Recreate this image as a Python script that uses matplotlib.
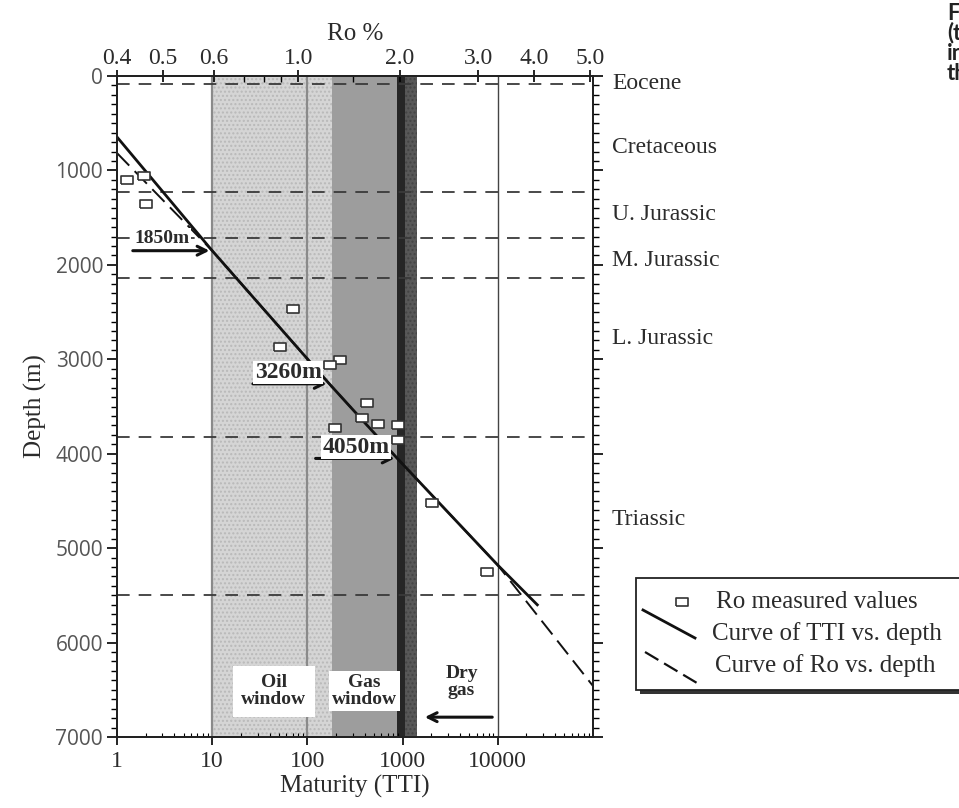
import matplotlib

matplotlib.use("Agg")

import matplotlib.pyplot as plt
from matplotlib.lines import Line2D
from matplotlib.patches import Rectangle
from matplotlib.ticker import FixedLocator, MultipleLocator, NullFormatter

SERIF = "Liberation Serif"
SANS = "Open Sans"
INK = "#2b2b2b"

# modelled curves (depth in m, TTI)
tti_curve_depth = [646, 1850, 3260, 4050, 5180, 5600]
tti_curve_value = [1, 10, 170, 880, 10000, 26000]
ro_curve_depth = [816, 1850, 3260, 4050, 5180, 6460]
ro_curve_value = [1, 10, 170, 880, 10000, 100000]

# measured Ro samples, converted to TTI
ro_meas_tti = [1.27, 1.9, 2.0, 70, 51, 219, 172, 423, 374, 550, 195, 890, 890, 2040, 7700]
ro_meas_depth = [1100, 1060, 1356, 2470, 2870, 3008, 3061, 3464, 3623, 3686, 3729, 3697, 3850, 4523, 5254]

# top axis: Ro % and the TTI it sits over
ro_ticks = ["0.4", "0.5", "0.6", "1.0", "2.0", "3.0", "4.0", "5.0"]
ro_tick_tti = [1.0, 3.05, 10.4, 80, 940, 6200, 24000, 93000]
ro_minor_tti = [21.6, 35, 53, 301]

# maturity windows (TTI)
oil_window = (10, 180)
gas_window = (180, 880)
peak_band = (880, 1050)
late_band = (1050, 1400)

# stratigraphy
formation_tops = [80, 1230, 1715, 2140, 3820, 5500]
formation_names = ["Eocene", "Cretaceous", "U. Jurassic", "M. Jurassic", "L. Jurassic", "Triassic"]
formation_label_depth = [80, 760, 1470, 1950, 2780, 4700]

# depth markers on the TTI curve
marker_depths = [1850, 3260, 4050]
marker_tti = [10, 170, 880]

W, H = 959, 808


def fx(px):
    return px / W


def fy(py):
    return 1 - py / H


fig = plt.figure(figsize=(W / 100, H / 100), dpi=100)
ax = fig.add_axes([fx(117), fy(737), fx(593) - fx(117), fy(76) - fy(737)])
ax.set_xscale("log")
ax.set_xlim(1, 1e5)
ax.set_ylim(7000, 0)

# windows
ax.axvspan(*oil_window, facecolor="#d5d5d5", edgecolor="#b9b9b9", hatch="....", linewidth=0, zorder=0)
ax.axvspan(*gas_window, facecolor="#9d9d9d", linewidth=0, zorder=0)
ax.axvspan(*peak_band, facecolor="#262626", linewidth=0, zorder=0)
ax.axvspan(*late_band, facecolor="#585858", edgecolor="#444444", hatch="....", linewidth=0, zorder=0)
ax.axvline(10, color="#8a8a8a", lw=1.6, zorder=1)
ax.axvline(100, color="#8a8a8a", lw=1.6, zorder=1)
ax.axvline(10000, color="#444444", lw=1.0, zorder=1)

for top in formation_tops:
    ax.axhline(top, color="#3a3a3a", lw=1.3, dashes=(7, 5), zorder=2)

ax.plot(tti_curve_value, tti_curve_depth, color="#111111", lw=2.0, zorder=4)
ax.plot(ro_curve_value, ro_curve_depth, color="#111111", lw=1.4, dashes=(9, 4), zorder=4)

box_marker = [(-1.4, -1), (1.4, -1), (1.4, 1), (-1.4, 1), (-1.4, -1)]
ax.plot(ro_meas_tti, ro_meas_depth, linestyle="none", marker=box_marker, markersize=9,
        markerfacecolor="white", markeredgecolor="#333333", markeredgewidth=1.2, zorder=5)

# depth markers
arrow_kw = dict(arrowstyle="->", lw=2.2, color="#111111", mutation_scale=16)
ax.annotate("", xy=(marker_tti[0], marker_depths[0]), xytext=(1.37, marker_depths[0]),
            arrowprops=arrow_kw, zorder=6)
ax.text(3.0, 1716, f"{marker_depths[0]}m", family=SERIF, fontsize=14, fontweight="bold",
        color=INK, ha="center", va="center", zorder=6,
        bbox=dict(facecolor="white", edgecolor="none", pad=1))
ax.annotate("", xy=(marker_tti[1], marker_depths[1]), xytext=(25, marker_depths[1]),
            arrowprops=arrow_kw, zorder=6)
ax.text(63, 3140, f"{marker_depths[1]}m", family=SERIF, fontsize=17, fontweight="bold",
        color=INK, ha="center", va="center", zorder=6,
        bbox=dict(facecolor="white", edgecolor="none", pad=1))
ax.annotate("", xy=(marker_tti[2], marker_depths[2]), xytext=(114, marker_depths[2]),
            arrowprops=arrow_kw, zorder=6)
ax.text(324, 3930, f"{marker_depths[2]}m", family=SERIF, fontsize=17, fontweight="bold",
        color=INK, ha="center", va="center", zorder=6,
        bbox=dict(facecolor="white", edgecolor="none", pad=1))

# window labels
ax.text(44.5, 6515, "Oil\nwindow", family=SERIF, fontsize=14, fontweight="bold", color=INK,
        ha="center", va="center", linespacing=1.0, zorder=6,
        bbox=dict(facecolor="white", edgecolor="none", pad=6))
ax.text(400, 6515, "Gas\nwindow", family=SERIF, fontsize=14, fontweight="bold", color=INK,
        ha="center", va="center", linespacing=1.0, zorder=6,
        bbox=dict(facecolor="white", edgecolor="none", pad=2))
ax.text(4160, 6420, "Dry\ngas", family=SERIF, fontsize=14, fontweight="bold", color=INK,
        ha="center", va="center", linespacing=1.0, zorder=6)
ax.annotate("", xy=(1600, 6790), xytext=(9350, 6790), arrowprops=arrow_kw, zorder=6)

# left / bottom axes
ax.yaxis.set_major_locator(MultipleLocator(1000))
ax.yaxis.set_minor_locator(MultipleLocator(100))
ax.set_xticks([1, 10, 100, 1000, 10000])
ax.set_xticklabels(["1", "10", "100", "1000", "10000"])
ax.tick_params(axis="y", which="major", direction="out", length=7, width=1.2, labelsize=15,
               labelcolor="#555555", pad=3)
ax.tick_params(axis="y", which="minor", direction="out", length=4, width=1)
ax.tick_params(axis="x", which="major", direction="out", length=6, width=1.2, labelsize=17,
               labelcolor=INK, pad=4)
ax.tick_params(axis="x", which="minor", direction="in", length=3, width=0.8)
ax.xaxis.set_minor_formatter(NullFormatter())
for lbl in ax.get_yticklabels():
    lbl.set_family(SANS)
for lbl in ax.get_xticklabels():
    lbl.set_family(SERIF)
ax.set_xlabel("Maturity (TTI)", family=SERIF, fontsize=18, color=INK, labelpad=2)
ax.set_ylabel("Depth (m)", family=SERIF, fontsize=18, color=INK, labelpad=6)

# top axis: Ro %
ax_top = ax.twiny()
ax_top.set_xscale("log")
ax_top.set_xlim(ax.get_xlim())
ax_top.xaxis.set_major_locator(FixedLocator(ro_tick_tti))
ax_top.xaxis.set_minor_locator(FixedLocator(ro_minor_tti))
ax_top.xaxis.set_minor_formatter(NullFormatter())
ax_top.set_xticklabels(ro_ticks, family=SERIF)
ax_top.tick_params(axis="x", which="major", direction="inout", length=8, width=1.2,
                   labelsize=17, labelcolor=INK, pad=1)
ax_top.tick_params(axis="x", which="minor", direction="in", length=4, width=1)
ax_top.set_xlabel("Ro %", family=SERIF, fontsize=18, color=INK, labelpad=6)

# right axis: stratigraphy
ax_right = ax.twinx()
ax_right.set_ylim(ax.get_ylim())
ax_right.yaxis.set_major_locator(MultipleLocator(1000))
ax_right.yaxis.set_minor_locator(MultipleLocator(100))
ax_right.yaxis.set_major_formatter(NullFormatter())
ax_right.tick_params(axis="y", which="major", direction="out", length=7, width=1.2)
ax_right.tick_params(axis="y", which="minor", direction="out", length=4, width=1)
for name, depth in zip(formation_names, formation_label_depth):
    ax_right.text(1.04, depth, name, transform=ax_right.get_yaxis_transform(), family=SERIF,
                  fontsize=17, color=INK, ha="left", va="center")

for axis in (ax, ax_top, ax_right):
    for spine in axis.spines.values():
        spine.set_linewidth(1.3)
        spine.set_color("#222222")

# legend box (partly cut off by the page edge)
fig.add_artist(Rectangle((fx(640), fy(694)), fx(990) - fx(640), fy(581) - fy(694),
                         transform=fig.transFigure, facecolor="#333333", edgecolor="none"))
fig.add_artist(Rectangle((fx(636), fy(690)), fx(990) - fx(636), fy(578) - fy(690),
                         transform=fig.transFigure, facecolor="white", edgecolor="#222222", lw=1.3))
fig.add_artist(Line2D([fx(682)], [fy(602)], transform=fig.transFigure, marker=box_marker,
                      markersize=9, markerfacecolor="white", markeredgecolor="#333333",
                      markeredgewidth=1.2))
fig.add_artist(Line2D([fx(643), fx(695)], [fy(610), fy(638)], transform=fig.transFigure,
                      color="#111111", lw=2.0))
fig.add_artist(Line2D([fx(645), fx(697)], [fy(652), fy(683)], transform=fig.transFigure,
                      color="#111111", lw=1.6, dashes=(7, 3)))
legend_texts = ["Ro measured values", "Curve of TTI vs. depth", "Curve of Ro vs. depth"]
for text, ty, tx in zip(legend_texts, [602, 634, 666], [716, 712, 715]):
    fig.text(fx(tx), fy(ty), text, family=SERIF, fontsize=18, color=INK, ha="left", va="center")

# caption fragment cut by the right page edge
for line, ty in zip(["Figure", "(the", "in", "the"], [13, 33, 53, 73]):
    fig.text(fx(947), fy(ty), line, family="Lato", fontweight="bold", fontsize=16,
             color="#222222", ha="left", va="center")

fig.savefig("out.png", dpi=100)
